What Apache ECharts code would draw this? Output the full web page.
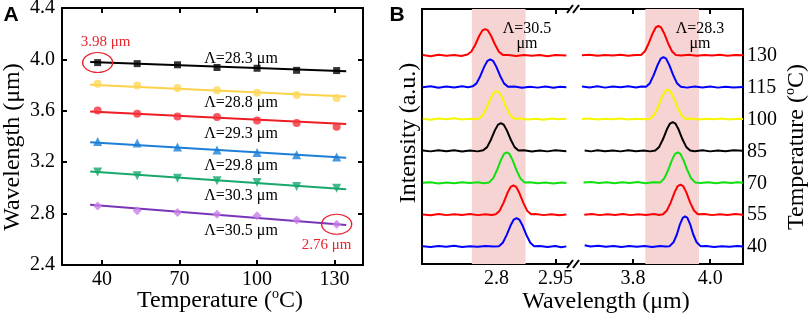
<!DOCTYPE html>
<html>
<head>
<meta charset="utf-8">
<script src="https://cdn.jsdelivr.net/npm/echarts@6.0.0/dist/echarts.min.js"></script>
<style>
html,body{margin:0;padding:0;background:#fff}
#chart{width:809px;height:320px}
</style>
</head>
<body>
<div id="chart"></div>
<script>
var SERIF = '"Liberation Serif","Times New Roman",serif';

// ---- panel A: peak wavelength vs temperature ----
var tempA = [38.3, 53.6, 69.2, 84.5, 100, 115.3, 130.8];
var wl283 = [3.975, 3.967, 3.958, 3.937, 3.931, 3.915, 3.913];
var wl288 = [3.811, 3.796, 3.778, 3.759, 3.741, 3.723, 3.700];
var wl293 = [3.603, 3.577, 3.556, 3.552, 3.525, 3.505, 3.476];
var wl298 = [3.361, 3.349, 3.318, 3.294, 3.276, 3.258, 3.240];
var wl303 = [3.123, 3.094, 3.076, 3.055, 3.042, 3.011, 2.998];
var wl305 = [2.860, 2.823, 2.808, 2.795, 2.784, 2.751, 2.717];
// linear fits, end points
var fitT = [35.4, 134.5];
var fit283 = [3.980, 3.907];
var fit288 = [3.803, 3.712];
var fit293 = [3.595, 3.497];
var fit298 = [3.355, 3.234];
var fit303 = [3.128, 2.990];
var fit305 = [2.868, 2.712];
var periodLabels = ['Λ=28.3 μm', 'Λ=28.8 μm', 'Λ=29.3 μm', 'Λ=29.8 μm', 'Λ=30.3 μm', 'Λ=30.5 μm'];
var xTicksA = [40, 70, 100, 130];

// ---- panel B: spectra, [wavelength, intensity above baseline] ----
var tempB = [130, 115, 100, 85, 70, 55, 40];
var xTicksBLeft = [2.8, 2.95];
var xTicksBRight = [3.8, 4.0];
var bandLeft = [2.737, 2.874];
var bandRight = [3.832, 3.971];

var left130 = [[2.612,0.3],[2.632,-0.2],[2.652,0.5],[2.672,0.0],[2.692,0.4],[2.71,-0.1],[2.726,0.6],[2.736,2.0],[2.746,5.3],[2.756,9.4],[2.764,11.9],[2.771,12.5],[2.778,11.9],[2.786,9.4],[2.796,5.3],[2.806,1.9],[2.816,0.4],[2.83,0.3],[2.85,-0.1],[2.87,0.4],[2.89,0.0],[2.91,0.3],[2.93,-0.2],[2.95,0.4],[2.978,0.1]];
var left115 = [[2.612,0.2],[2.632,0.6],[2.652,-0.1],[2.672,0.5],[2.692,0.1],[2.712,0.6],[2.728,0.2],[2.739,0.6],[2.749,2.0],[2.759,5.6],[2.769,10.0],[2.777,12.6],[2.784,13.3],[2.791,12.6],[2.799,10.0],[2.809,5.6],[2.819,2.0],[2.829,0.4],[2.845,0.5],[2.865,-0.1],[2.885,0.4],[2.905,0.0],[2.925,0.5],[2.945,-0.1],[2.962,0.4],[2.978,0.2]];
var left100 = [[2.612,0.3],[2.632,-0.1],[2.652,0.5],[2.672,0.1],[2.692,0.6],[2.712,0.0],[2.732,0.4],[2.745,0.1],[2.755,0.5],[2.765,2.0],[2.775,5.6],[2.785,10.0],[2.793,12.6],[2.800,13.3],[2.807,12.6],[2.815,10.0],[2.825,5.6],[2.835,2.0],[2.845,0.4],[2.86,0.5],[2.88,0.0],[2.90,0.4],[2.92,-0.1],[2.94,0.5],[2.96,0.1],[2.978,0.3]];
var left85 = [[2.612,0.4],[2.632,0.0],[2.652,0.5],[2.672,0.1],[2.692,0.5],[2.712,-0.1],[2.732,0.4],[2.752,0.0],[2.766,0.5],[2.776,2.0],[2.786,5.6],[2.796,10.0],[2.804,12.6],[2.811,13.3],[2.818,12.6],[2.826,10.0],[2.836,5.6],[2.846,2.0],[2.856,0.4],[2.87,0.5],[2.89,-0.1],[2.91,0.4],[2.93,0.0],[2.95,0.5],[2.978,0.1]];
var left70 = [[2.612,0.2],[2.632,0.5],[2.652,-0.1],[2.672,0.4],[2.692,0.0],[2.712,0.5],[2.732,0.1],[2.752,0.5],[2.768,0.0],[2.781,0.4],[2.791,2.2],[2.801,6.1],[2.811,10.9],[2.819,13.8],[2.826,14.5],[2.833,13.8],[2.841,10.9],[2.851,6.1],[2.861,2.2],[2.871,0.4],[2.885,0.5],[2.905,0.0],[2.925,0.4],[2.945,-0.1],[2.965,0.4],[2.978,0.1]];
var left55 = [[2.612,0.3],[2.632,-0.1],[2.652,0.5],[2.672,0.0],[2.692,0.4],[2.712,0.1],[2.732,0.5],[2.752,0.0],[2.772,0.4],[2.788,0.1],[2.798,0.4],[2.808,2.1],[2.818,5.9],[2.828,10.5],[2.836,13.3],[2.843,14.0],[2.850,13.3],[2.858,10.5],[2.868,5.9],[2.878,2.1],[2.888,0.4],[2.90,0.5],[2.92,0.0],[2.94,0.4],[2.96,-0.1],[2.978,0.3]];
var left40 = [[2.612,0.4],[2.632,0.0],[2.652,0.5],[2.672,0.1],[2.692,0.6],[2.712,0.0],[2.732,0.4],[2.752,0.1],[2.772,0.5],[2.792,0.2],[2.806,0.4],[2.816,2.0],[2.826,5.7],[2.836,10.2],[2.844,12.9],[2.851,13.6],[2.858,12.9],[2.866,10.2],[2.876,5.7],[2.886,2.0],[2.896,0.4],[2.91,0.5],[2.93,0.0],[2.95,0.5],[2.965,-0.1],[2.978,0.3]];

var right130 = [[3.668,0.2],[3.688,0.5],[3.708,0.0],[3.728,0.4],[3.748,0.1],[3.768,0.5],[3.788,0.0],[3.806,0.4],[3.821,0.4],[3.831,2.1],[3.841,5.9],[3.851,10.5],[3.859,13.3],[3.866,14.0],[3.873,13.3],[3.881,10.5],[3.891,5.9],[3.901,2.1],[3.911,0.4],[3.925,0.1],[3.945,0.5],[3.965,0.0],[3.985,0.4],[4.005,0.1],[4.025,0.5],[4.045,0.0],[4.065,0.4],[4.085,0.2]];
var right115 = [[3.668,0.5],[3.688,0.1],[3.708,0.6],[3.728,0.0],[3.748,0.5],[3.768,0.2],[3.788,0.6],[3.808,0.1],[3.822,0.5],[3.834,0.4],[3.844,2.1],[3.854,6.0],[3.864,10.7],[3.872,13.6],[3.879,14.3],[3.886,13.6],[3.894,10.7],[3.904,6.0],[3.914,2.1],[3.924,0.4],[3.94,0.0],[3.96,0.5],[3.98,0.1],[4.0,0.5],[4.02,0.0],[4.04,0.4],[4.06,0.1],[4.085,0.3]];
var right100 = [[3.668,0.2],[3.688,0.5],[3.708,0.0],[3.728,0.4],[3.748,0.1],[3.768,0.5],[3.788,0.0],[3.808,0.4],[3.828,0.1],[3.845,0.4],[3.855,2.1],[3.865,5.9],[3.875,10.5],[3.883,13.3],[3.890,14.0],[3.897,13.3],[3.905,10.5],[3.915,5.9],[3.925,2.1],[3.935,0.4],[3.95,0.5],[3.97,0.0],[3.99,0.4],[4.01,0.1],[4.03,0.5],[4.05,0.0],[4.07,0.4],[4.085,0.2]];
var right85 = [[3.675,0.4],[3.692,0.0],[3.708,0.5],[3.728,0.1],[3.748,0.4],[3.768,0.0],[3.788,0.5],[3.808,0.1],[3.828,0.4],[3.845,0.0],[3.858,0.4],[3.868,2.1],[3.878,5.8],[3.888,10.4],[3.896,13.1],[3.903,13.8],[3.910,13.1],[3.918,10.4],[3.928,5.8],[3.938,2.1],[3.948,0.4],[3.96,0.1],[3.98,0.5],[4.0,0.0],[4.02,0.4],[4.04,0.1],[4.06,0.5],[4.085,0.3]];
var right70 = [[3.672,0.3],[3.692,0.6],[3.712,0.1],[3.732,0.5],[3.752,0.0],[3.772,0.5],[3.792,0.1],[3.812,0.6],[3.832,0.0],[3.852,0.5],[3.871,0.4],[3.881,2.2],[3.891,6.1],[3.901,10.9],[3.909,13.8],[3.916,14.5],[3.923,13.8],[3.931,10.9],[3.941,6.1],[3.951,2.2],[3.961,0.4],[3.975,0.1],[3.995,0.5],[4.015,0.0],[4.035,0.5],[4.055,0.1],[4.07,0.5],[4.085,0.2]];
var right55 = [[3.674,0.2],[3.694,0.5],[3.714,0.0],[3.734,0.4],[3.754,0.1],[3.774,0.5],[3.794,0.0],[3.814,0.4],[3.834,0.1],[3.854,0.5],[3.868,0.1],[3.878,0.4],[3.888,2.2],[3.898,6.0],[3.908,10.8],[3.916,13.7],[3.923,14.4],[3.930,13.7],[3.938,10.8],[3.948,6.0],[3.958,2.2],[3.968,0.4],[3.985,0.5],[4.005,0.0],[4.025,0.4],[4.045,0.1],[4.065,0.5],[4.085,0.2]];
var right40 = [[3.675,0.8],[3.69,0.2],[3.71,0.6],[3.73,0.1],[3.75,0.5],[3.77,0.0],[3.79,0.5],[3.81,0.1],[3.83,0.5],[3.85,0.0],[3.87,0.5],[3.885,0.2],[3.895,0.4],[3.905,2.2],[3.914,6.0],[3.922,10.8],[3.929,13.7],[3.935,14.4],[3.941,13.7],[3.948,10.8],[3.956,6.0],[3.965,2.2],[3.975,0.4],[3.99,0.5],[4.01,0.0],[4.03,0.4],[4.05,0.1],[4.07,0.5],[4.085,0.2]];

var leftTraces = [left130, left115, left100, left85, left70, left55, left40];
var rightTraces = [right130, right115, right100, right85, right70, right55, right40];
var traceColors = ['#ff0000', '#0000ff', '#f6f600', '#000000', '#10e010', '#ff0000', '#0000ff'];

var myChart = echarts.init(document.getElementById('chart'));

function frameAxis(grid, pos, min, max, ticks, showLabel) {
    return {
        type: 'value', gridIndex: grid, position: pos, min: min, max: max,
        axisLine: {show: true, onZero: false, lineStyle: {color: '#000', width: 2}},
        axisTick: {show: true, inside: true, length: 5, customValues: ticks, lineStyle: {color: '#000', width: 2}},
        axisLabel: {show: showLabel, customValues: ticks, margin: 5, color: '#000', fontFamily: SERIF, fontSize: 20,
            formatter: function (v) { return String(Math.round(v * 100) / 100); }},
        splitLine: {show: false}
    };
}

var xAxes = [
    frameAxis(0, 'bottom', 24.5, 141, xTicksA, true),
    frameAxis(0, 'top', 24.5, 141, xTicksA, false),
    frameAxis(1, 'bottom', 2.61, 3.0, xTicksBLeft, true),
    frameAxis(1, 'top', 2.61, 3.0, xTicksBLeft, false),
    frameAxis(2, 'bottom', 3.65, 4.085, xTicksBRight, true),
    frameAxis(2, 'top', 3.65, 4.085, xTicksBRight, false)
];
xAxes[2].axisLabel.formatter = function (v) { return v === 2.8 ? '2.8' : '2.95'; };
xAxes[4].axisLabel.formatter = function (v) { return v.toFixed(1); };

var yAxes = [
    {
        type: 'value', gridIndex: 0, position: 'left', min: 2.4, max: 4.4, interval: 0.4,
        axisLine: {show: true, lineStyle: {color: '#000', width: 2}},
        axisTick: {show: true, inside: true, length: 5, lineStyle: {color: '#000', width: 2}},
        axisLabel: {margin: 7, color: '#000', fontFamily: SERIF, fontSize: 20,
            formatter: function (v) { return v.toFixed(1); }},
        splitLine: {show: false}
    },
    {
        type: 'value', gridIndex: 0, position: 'right', min: 2.4, max: 4.4, interval: 0.4,
        axisLine: {show: true, lineStyle: {color: '#000', width: 2}},
        axisTick: {show: true, inside: true, length: 5, lineStyle: {color: '#000', width: 2}},
        axisLabel: {show: false},
        splitLine: {show: false}
    },
    {
        type: 'value', gridIndex: 1, position: 'left', min: 32, max: 152,
        axisLine: {show: true, lineStyle: {color: '#000', width: 2}},
        axisTick: {show: false}, axisLabel: {show: false}, splitLine: {show: false}
    },
    {
        type: 'value', gridIndex: 2, position: 'right', min: 32, max: 152,
        axisLine: {show: true, lineStyle: {color: '#000', width: 2}},
        axisTick: {show: false},
        axisLabel: {show: true, customValues: tempB.slice().reverse(), margin: 4, color: '#000', fontFamily: SERIF, fontSize: 20},
        splitLine: {show: false}
    }
];

var series = [];

var groupsA = [
    {y: wl283, fit: fit283, color: '#000000', line: '#000000', symbol: 'rect', size: 7, rot: 0},
    {y: wl288, fit: fit288, color: '#fdd75a', line: '#fdd24a', symbol: 'circle', size: 8, rot: 0},
    {y: wl293, fit: fit293, color: '#f5303a', line: '#ee1c24', symbol: 'circle', size: 8, rot: 0},
    {y: wl298, fit: fit298, color: '#1c7fd6', line: '#1c7fd6', symbol: 'triangle', size: 9, rot: 0},
    {y: wl303, fit: fit303, color: '#17a86c', line: '#17a86c', symbol: 'triangle', size: 9, rot: 180},
    {y: wl305, fit: fit305, color: '#c77ee6', line: '#7a34b8', symbol: 'diamond', size: 9, rot: 0}
];

groupsA.forEach(function (g) {
    series.push({
        type: 'line', xAxisIndex: 0, yAxisIndex: 0, showSymbol: false, z: 2,
        data: fitT.map(function (t, i) { return [t, g.fit[i]]; }),
        lineStyle: {color: g.line, width: 2}
    });
});

groupsA.forEach(function (g, k) {
    var s = {
        type: 'scatter', xAxisIndex: 0, yAxisIndex: 0, z: 3,
        symbol: g.symbol, symbolSize: g.size, symbolRotate: g.rot,
        itemStyle: {color: g.color},
        data: tempA.map(function (t, i) { return [t, g.y[i]]; })
    };
    var mark = null;
    if (k === 0) mark = {i: 0, text: '3.98 μm', pos: 'top', dx: 8};
    if (k === 5) mark = {i: 6, text: '2.76 μm', pos: 'bottom', dx: -10};
    if (mark) {
        s.markPoint = {
            symbol: 'circle', symbolSize: [30, 20], silent: true,
            itemStyle: {color: 'transparent', borderColor: '#e8242c', borderWidth: 1.2},
            label: {show: true, position: mark.pos, distance: 3, offset: [mark.dx, 0], formatter: mark.text,
                color: '#e8242c', fontFamily: SERIF, fontSize: 15},
            data: [{coord: [tempA[mark.i], g.y[mark.i]]}]
        };
    }
    series.push(s);
});

// pink bands behind the spectra
series.push({
    type: 'line', xAxisIndex: 2, yAxisIndex: 2, z: 1, showSymbol: false, silent: true,
    data: left40.map(function (p) { return [p[0], 40 + p[1]]; }), lineStyle: {opacity: 0},
    markArea: {silent: true, itemStyle: {color: '#f7d4d4'}, data: [[{xAxis: bandLeft[0]}, {xAxis: bandLeft[1]}]]}
});
series.push({
    type: 'line', xAxisIndex: 4, yAxisIndex: 3, z: 1, showSymbol: false, silent: true,
    data: right40.map(function (p) { return [p[0], 40 + p[1]]; }), lineStyle: {opacity: 0},
    markArea: {silent: true, itemStyle: {color: '#f7d4d4'}, data: [[{xAxis: bandRight[0]}, {xAxis: bandRight[1]}]]}
});

tempB.forEach(function (T, i) {
    series.push({
        type: 'line', xAxisIndex: 2, yAxisIndex: 2, z: 3, showSymbol: false,
        data: leftTraces[i].map(function (p) { return [p[0], T + p[1]]; }),
        lineStyle: {color: traceColors[i], width: 2}
    });
    series.push({
        type: 'line', xAxisIndex: 4, yAxisIndex: 3, z: 3, showSymbol: false,
        data: rightTraces[i].map(function (p) { return [p[0], T + p[1]]; }),
        lineStyle: {color: traceColors[i], width: 2}
    });
});

var labelYA = [59, 103, 134, 166, 196, 231];
var graphics = [];
periodLabels.forEach(function (t, i) {
    graphics.push({type: 'text', x: 241, y: labelYA[i], z: 10,
        style: {text: t, fill: '#000', font: '16px ' + SERIF, textAlign: 'center', textVerticalAlign: 'middle'}});
});
var supRich = {
    a: {fontFamily: SERIF, fontSize: 24, lineHeight: 28, fill: '#000', color: '#000'},
    s: {fontFamily: SERIF, fontSize: 14, lineHeight: 14, verticalAlign: 'top', fill: '#000', color: '#000'}
};
graphics.push(
    {type: 'text', x: 11, y: 15, style: {text: 'A', fill: '#000', font: 'bold 21px "Liberation Sans",Arial,sans-serif', textAlign: 'center', textVerticalAlign: 'middle'}},
    {type: 'text', x: 397, y: 15, style: {text: 'B', fill: '#000', font: 'bold 21px "Liberation Sans",Arial,sans-serif', textAlign: 'center', textVerticalAlign: 'middle'}},
    {type: 'text', x: 13, y: 147, rotation: Math.PI / 2,
        style: {text: 'Wavelength (μm)', fill: '#000', font: '24px ' + SERIF, textAlign: 'center', textVerticalAlign: 'middle'}},
    {type: 'text', x: 220, y: 301,
        style: {text: '{a|Temperature (}{s|o}{a|C)}', rich: supRich, textAlign: 'center', textVerticalAlign: 'middle'}},
    {type: 'text', x: 409, y: 133, rotation: Math.PI / 2,
        style: {text: 'Intensity (a.u.)', fill: '#000', font: '24px ' + SERIF, textAlign: 'center', textVerticalAlign: 'middle'}},
    {type: 'text', x: 606, y: 302,
        style: {text: 'Wavelength (μm)', fill: '#000', font: '24px ' + SERIF, textAlign: 'center', textVerticalAlign: 'middle'}},
    {type: 'text', x: 797, y: 147, rotation: Math.PI / 2,
        style: {text: '{a|Temperature (}{s|o}{a|C)}', rich: supRich, textAlign: 'center', textVerticalAlign: 'middle'}},
    {type: 'text', x: 527, y: 36, z: 10,
        style: {text: 'Λ=30.5\nμm', fill: '#000', font: '16px ' + SERIF, lineHeight: 15, textAlign: 'center', textVerticalAlign: 'middle'}},
    {type: 'text', x: 700, y: 36, z: 10,
        style: {text: 'Λ=28.3\nμm', fill: '#000', font: '16px ' + SERIF, lineHeight: 15, textAlign: 'center', textVerticalAlign: 'middle'}}
);
// axis break marks
[9, 264].forEach(function (yb) {
    graphics.push(
        {type: 'rect', shape: {x: 569, y: yb - 2, width: 11, height: 4}, style: {fill: '#fff'}, z: 20},
        {type: 'line', shape: {x1: 567, y1: yb + 4, x2: 573, y2: yb - 4}, style: {stroke: '#000', lineWidth: 2}, z: 21},
        {type: 'line', shape: {x1: 573, y1: yb + 4, x2: 579, y2: yb - 4}, style: {stroke: '#000', lineWidth: 2}, z: 21}
    );
});

var option = {
    backgroundColor: '#fff',
    animation: false,
    grid: [
        {left: 62, top: 8, width: 301, height: 257, outerBoundsMode: 'none'},
        {left: 422, top: 9, width: 153, height: 255, outerBoundsMode: 'none'},
        {left: 575, top: 9, width: 168, height: 255, outerBoundsMode: 'none'}
    ],
    xAxis: xAxes,
    yAxis: yAxes,
    series: series,
    graphic: graphics
};
myChart.setOption(option);
</script>
</body>
</html>
